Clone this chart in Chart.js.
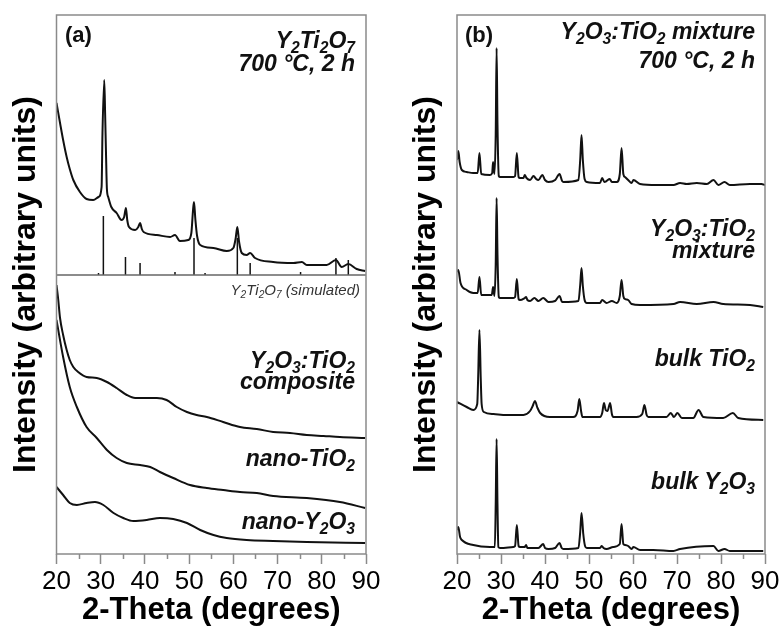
<!DOCTYPE html>
<html>
<head>
<meta charset="utf-8">
<script src="https://cdn.jsdelivr.net/npm/chart.js@4.4.1/dist/chart.umd.min.js"></script>
<style>
  body { margin: 0; background: #fff; }
  #wrap { position: relative; width: 783px; height: 629px; overflow: hidden;
          font-family: "Liberation Sans", Arial, sans-serif; }
  canvas { position: absolute; top: 0; }
  #chart-a { left: 0; }
  #chart-b { left: 392px; }
  .lbl { position: absolute; font-weight: bold; font-style: italic; font-size: 23px;
         line-height: 23px; color: #111; white-space: nowrap; text-align: right; }
  .lbl sub { font-size: 0.68em; line-height: 0; vertical-align: -0.32em; }
  .tag { font-style: normal; font-size: 22px; line-height: 22px; }
  .sim { font-weight: normal; font-size: 15px; line-height: 15px; color: #333; }
</style>
</head>
<body>
<div id="wrap">
  <canvas id="chart-a" width="392" height="629"></canvas>
  <canvas id="chart-b" width="391" height="629"></canvas>

  <!-- panel (a) labels -->
  <div class="lbl tag" style="left:65px; top:24px">(a)</div>
  <div class="lbl" style="right:428px; top:29px">Y<sub>2</sub>Ti<sub>2</sub>O<sub>7</sub></div>
  <div class="lbl" style="right:428px; top:52px">700 °C, 2 h</div>
  <div class="lbl sim" style="right:423px; top:282px">Y<sub>2</sub>Ti<sub>2</sub>O<sub>7</sub> (simulated)</div>
  <div class="lbl" style="right:428px; top:349px">Y<sub>2</sub>O<sub>3</sub>:TiO<sub>2</sub></div>
  <div class="lbl" style="right:428px; top:370px">composite</div>
  <div class="lbl" style="right:428px; top:447px">nano-TiO<sub>2</sub></div>
  <div class="lbl" style="right:428px; top:510px">nano-Y<sub>2</sub>O<sub>3</sub></div>

  <!-- panel (b) labels -->
  <div class="lbl tag" style="left:465px; top:24px">(b)</div>
  <div class="lbl" style="right:28px; top:20px">Y<sub>2</sub>O<sub>3</sub>:TiO<sub>2</sub> mixture</div>
  <div class="lbl" style="right:28px; top:49px">700 °C, 2 h</div>
  <div class="lbl" style="right:28px; top:217px">Y<sub>2</sub>O<sub>3</sub>:TiO<sub>2</sub></div>
  <div class="lbl" style="right:28px; top:239px">mixture</div>
  <div class="lbl" style="right:28px; top:347px">bulk TiO<sub>2</sub></div>
  <div class="lbl" style="right:28px; top:470px">bulk Y<sub>2</sub>O<sub>3</sub></div>
</div>

<script>
// ---- data (2-theta, intensity in arbitrary units) ----
const minorTicks = [25, 35, 45, 55, 65, 75, 85];

// panel (a)
const y2ti2o7Heated = [[20.0,451],[20.8,431],[21.5,414],[22.3,397],[23.0,385],[23.8,374],[25.3,362],
  [26.8,355],[28.3,354],[29.5,357],[30.2,367],[30.4,421],[30.8,474],[31.0,440],[31.2,400],[31.4,365],
  [31.7,357],[32.4,347],[33.6,341],[34.7,334],[35.3,337],[35.7,346],[36.0,334],[36.4,327],[37.8,324],
  [38.5,327],[38.9,331],[39.3,325],[39.7,322],[42.7,319],[45.7,317],[46.8,319],[47.9,313],[49.8,314],
  [50.5,321],[50.9,345],[51.1,352],[51.4,335],[51.8,318],[52.5,309],[55.5,306],[58.5,303],[60.0,306],
  [60.5,315],[60.9,327],[61.3,312],[61.9,301],[63.0,299],[63.8,301],[64.9,296],[69.0,292],[73.6,291],
  [75.5,292],[76.6,289],[81.1,289],[83.2,294],[84.5,287],[86.0,290],[87.9,285],[89.8,283]];

const simBase = 279;
const simPeaks = [[29.5,281],[30.6,338],[35.6,297],[38.9,291],[46.8,282],[51.1,316],[53.6,281],
  [60.9,316],[63.8,291],[75.2,282],[83.2,296],[86.0,294]];

const composite = [[20.0,269],[20.4,254],[20.8,236],[21.5,219],[22.3,204],[23.0,194],[23.8,187],
  [24.9,182],[26.8,177],[29.1,176],[31.4,172],[33.6,166],[35.9,159],[37.8,156],[40.4,156],[42.7,156],
  [44.9,154],[47.2,147],[49.5,142],[51.7,139],[54.0,137],[57.7,132],[61.5,127],[65.3,125],[69.0,122],
  [72.8,121],[76.6,119],[80.4,118],[84.1,117],[89.8,116]];

const nanoTiO2 = [[20.0,234],[21.5,197],[23.0,167],[24.6,147],[26.8,127],[29.1,116],[31.4,104],
  [33.6,96],[35.9,91],[38.9,89],[41.2,87],[43.4,82],[46.4,76],[50.2,69],[54.0,66],[57.7,64],[61.5,62],
  [65.3,61],[69.0,58],[76.6,56],[84.1,52],[89.8,46]];

const nanoY2O3 = [[20.0,67],[21.5,59],[23.0,51],[24.6,49],[26.8,51],[28.7,52],[30.6,49],[32.9,41],
  [35.1,36],[37.4,33],[40.4,34],[43.4,36],[46.4,35],[49.5,31],[52.5,24],[55.5,19],[58.5,16],[63.0,14],
  [69.0,13],[76.6,12],[89.8,11]];

// panel (b)
const mixHeated = [[20.0,394],[20.3,403],[20.6,392],[21.1,384],[22.2,382],[23.7,381],[24.7,381],
  [25.1,401],[25.5,380],[27.5,379],[28.0,381],[28.2,392],[28.5,380],[28.8,420],[29.0,506],[29.2,430],
  [29.5,378],[29.8,377],[32.8,377],[33.2,378],[33.6,401],[34.0,377],[34.3,376],[35.1,376],[35.4,379],
  [35.8,376],[36.6,374],[37.4,378],[38.0,375],[38.5,374],[39.4,379],[40.0,374],[40.8,372],[42.3,374],
  [43.3,380],[43.9,373],[44.2,372],[47.6,374],[48.0,394],[48.3,419],[48.6,394],[49.0,375],[49.5,372],
  [52.5,371],[53.0,376],[53.5,372],[54.0,373],[54.7,375],[55.2,372],[56.3,372],[57.0,380],[57.4,406],
  [57.8,380],[58.2,377],[58.9,374],[59.7,371],[60.1,374],[61.6,370],[65.4,369],[69.2,369],[70.7,371],
  [72.2,370],[74.5,371],[76.8,370],[78.3,374],[79.4,369],[80.8,372],[82.0,369],[86.6,370],[89.2,370],
  [90.0,369]];

const mixRaw = [[20.0,282],[20.3,284],[20.8,271],[22.2,264],[23.7,261],[24.7,261],[25.1,277],
  [25.5,259],[27.9,259],[28.2,267],[28.5,258],[28.8,290],[29.0,356],[29.2,300],[29.5,257],[29.8,256],
  [32.8,256],[33.2,257],[33.6,275],[34.0,255],[34.3,254],[35.4,256],[35.7,257],[36.0,254],[36.6,253],
  [37.6,256],[38.5,253],[39.6,256],[40.8,252],[42.3,253],[43.3,258],[43.9,252],[44.2,252],[47.6,253],
  [48.0,269],[48.3,286],[48.6,268],[49.0,254],[49.5,251],[52.5,251],[53.0,254],[54.0,251],[55.2,253],
  [56.3,251],[57.0,258],[57.4,274],[57.8,258],[58.2,255],[58.9,254],[59.7,250],[61.6,249],[69.2,250],
  [70.7,252],[74.5,250],[78.3,252],[80.5,250],[86.6,249],[89.6,247]];

const bulkTiO2 = [[20.0,152],[22.2,147],[23.7,144],[24.6,150],[24.8,175],[25.1,224],[25.4,175],
  [25.6,150],[26.1,142],[28.3,140],[31.3,139],[35.1,139],[36.6,143],[37.2,148],[37.7,153],[38.3,146],
  [38.9,141],[41.1,137],[46.4,137],[47.4,143],[47.8,155],[48.2,143],[48.5,137],[52.5,137],[53.0,141],
  [53.4,151],[53.8,144],[54.2,143],[54.8,151],[55.2,140],[55.5,137],[60.8,137],[62.1,140],[62.6,149],
  [63.1,139],[63.5,137],[67.6,137],[68.6,141],[69.3,137],[70.1,141],[71.1,136],[73.7,136],[74.9,144],
  [76.0,137],[80.5,136],[82.7,141],[83.9,136],[89.6,134]];

const bulkY2O3 = [[20.0,24],[20.3,27],[20.7,17],[21.1,14],[23.7,9],[27.5,7],[28.6,7],[28.8,50],
  [29.0,115],[29.2,50],[29.4,7],[29.8,6],[32.8,7],[33.2,8],[33.6,29],[34.0,8],[34.3,7],[35.4,7],
  [35.7,9],[36.0,6],[38.5,6],[39.6,10],[40.0,6],[40.8,5],[42.3,6],[43.3,11],[43.8,6],[44.2,5],[47.6,6],
  [48.0,22],[48.3,41],[48.7,20],[49.1,8],[49.5,6],[52.5,6],[52.9,8],[53.3,6],[54.0,5],[55.5,7],[57.0,10],
  [57.4,30],[57.8,10],[58.2,9],[58.9,8],[59.7,5],[60.1,7],[61.6,4],[64.6,4],[69.2,3],[70.7,5],[78.3,8],
  [79.4,3],[80.8,5],[82.0,3],[89.6,3]];

// ---- helpers ----
const FONT = "'Liberation Sans', Arial, sans-serif";

function toPts(pairs) {
  return pairs.map(([x, y]) => ({ x, y }));
}

/** stick pattern: one vertical segment per reflection, broken by nulls */
function stickPts(peaks, base) {
  const out = [];
  peaks.forEach(([x, top]) => {
    out.push({ x, y: base }, { x, y: top }, { x, y: null });
  });
  return out;
}

function trace(pairs) {
  return {
    data: toPts(pairs),
    borderColor: "#111",
    borderWidth: 2,
    pointRadius: 0,
    cubicInterpolationMode: "monotone",
  };
}

/** box around the plot area + short minor ticks under the x axis */
const framePlugin = {
  id: "frame",
  afterDatasetsDraw(chart) {
    const { ctx, chartArea: a, scales: { x } } = chart;
    ctx.save();
    ctx.strokeStyle = "#8a8a8a";
    ctx.lineWidth = 1.5;
    ctx.strokeRect(a.left, a.top, a.right - a.left, a.bottom - a.top);
    ctx.beginPath();
    minorTicks.forEach(v => {
      const px = Math.round(x.getPixelForValue(v)) + 0.5;
      ctx.moveTo(px, a.bottom);
      ctx.lineTo(px, a.bottom + 5);
    });
    ctx.stroke();
    ctx.restore();
  },
};

function makeChart(id, datasets, yWidth, titlePad, rightPad) {
  return new Chart(document.getElementById(id), {
    type: "line",
    data: { datasets },
    options: {
      responsive: false,
      animation: false,
      spanGaps: false,
      layout: { padding: { top: 15, right: rightPad, left: 0, bottom: 0 } },
      plugins: { legend: { display: false }, tooltip: { enabled: false } },
      scales: {
        x: {
          type: "linear",
          min: 20, max: 90,
          border: { display: false },
          grid: { drawOnChartArea: false, tickLength: 10, tickColor: "#8a8a8a", tickWidth: 1.5 },
          ticks: { stepSize: 10, autoSkip: false, maxRotation: 0, padding: 2,
                   color: "#000", font: { family: FONT, size: 26 } },
          title: { display: true, text: "2-Theta (degrees)", color: "#000",
                   font: { family: FONT, size: 31, weight: "bold", lineHeight: 1 },
                   padding: { top: 0, bottom: 3 } },
          afterFit: s => { s.height = 75; },
        },
        y: {
          min: 0, max: 539,
          border: { display: false },
          grid: { display: false },
          ticks: { display: false },
          title: { display: true, text: "Intensity (arbitrary units)", color: "#000",
                   font: { family: FONT, size: 32, weight: "bold", lineHeight: 1 },
                   padding: { top: titlePad, bottom: 0 } },
          afterFit: s => { s.width = yWidth; },
        },
      },
    },
    plugins: [framePlugin],
  });
}

// ---- panel (a) ----
makeChart("chart-a", [
  trace(y2ti2o7Heated),
  { data: [{ x: 20, y: simBase }, { x: 90, y: simBase }], borderColor: "#666",
    borderWidth: 1.5, pointRadius: 0 },
  { data: stickPts(simPeaks, simBase), borderColor: "#111", borderWidth: 1.5, pointRadius: 0 },
  trace(composite),
  trace(nanoTiO2),
  trace(nanoY2O3),
], 56.5, 10, 26);

// ---- panel (b) ----
makeChart("chart-b", [
  trace(mixHeated),
  trace(mixRaw),
  trace(bulkTiO2),
  trace(bulkY2O3),
], 65, 18, 18);
</script>
</body>
</html>
